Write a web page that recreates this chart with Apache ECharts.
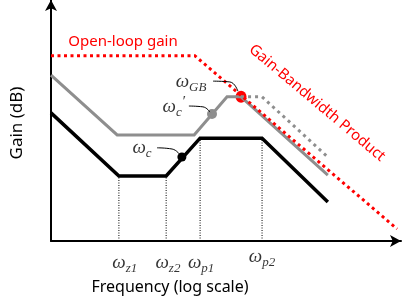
<!DOCTYPE html>
<html><head><meta charset="utf-8">
<script src="https://cdn.jsdelivr.net/npm/echarts@6/dist/echarts.min.js"></script>
<style>html,body{margin:0;padding:0;background:#fff}#c{width:403px;height:302px}</style>
</head><body><div id="c"></div>
<script>
// x: log-frequency units (0..10), y: gain units (0..60)
const openLoop = [[0, 46.1], [4.11, 46.1], [9.89, 3.0]];
const grayResp = [[0, 41.3], [1.89, 26.4], [4.09, 26.4], [5.03, 35.9], [5.43, 35.9], [7.91, 16.4]];
const grayDotted = [[5.43, 35.9], [6.03, 35.9], [7.91, 20.9]];
const blackResp = [[0, 31.9], [1.94, 16.2], [3.29, 16.2], [4.26, 25.6], [6.03, 25.6], [7.91, 9.7]];
const cornerX = [1.94, 3.29, 4.26, 6.03];
const cornerY = [16.2, 16.2, 25.6, 25.6];
const cornerLabels = ['{w|ω}{s|z1}', '{w|ω}{s|z2}', '{w|ω}{s|p1}', '{w|ω}{s|p2}'];
const cornerLabelPos = [[2.11, -5.5], [3.34, -5.5], [4.29, -5.5], [6.03, -4.0]];
const pointC = [3.74, 20.9];
const pointCp = [4.6, 31.6];
const pointGB = [5.43, 35.9];
const pointLabels = ['{w|ω}{s|c}', '{w|ω}{s|c}{p|′}', '{w|ω}{s|GB}'];
const pointLabelPos = [[2.6, 23.2], [3.51, 33.4], [4.0, 39.6]];
const leaderC = [[3.03, 23.2], [3.46, 22.9], [3.69, 21.4]];
const leaderCp = [[3.94, 33.6], [4.34, 33.4], [4.54, 32.1]];
const leaderGB = [[4.63, 39.8], [5.11, 39.6], [5.34, 37.3]];

const RED = '#ff0000', GRAY = '#8e8e8e';
const serif = 'Liberation Serif';
const rich = {
  w: {fontFamily: serif, fontStyle: 'italic', fontSize: 19, lineHeight: 24, verticalAlign: 'middle', color: '#000'},
  s: {fontFamily: serif, fontStyle: 'italic', fontSize: 13, lineHeight: 24, verticalAlign: 'bottom', color: '#000'},
  p: {fontFamily: serif, fontStyle: 'italic', fontSize: 15, lineHeight: 24, verticalAlign: 'top', color: '#000'}
};

function lineSeries(data, color, width, type, extra) {
  return Object.assign({
    type: 'line', data: data, symbol: 'none', silent: true, animation: false,
    lineStyle: {color: color, width: width, type: type, join: 'miter'}, clip: false
  }, extra || {});
}

const series = [];
cornerX.forEach((x, i) => {
  series.push(lineSeries([[x, 0], [x, cornerY[i]]], '#000', 1, [1, 1.5]));
});
series.push(lineSeries(grayResp, GRAY, 3, 'solid'));
series.push(lineSeries(grayDotted, GRAY, 3, [3, 4]));
series.push(lineSeries(blackResp, '#000', 3.5, 'solid'));
series.push(lineSeries(openLoop, RED, 3, [3, 3.5]));
[leaderC, leaderCp, leaderGB].forEach(d => {
  series.push(lineSeries(d, '#000', 1, 'solid', {smooth: true}));
});
series.push({type: 'scatter', silent: true, animation: false, data: [pointC], symbolSize: 9, itemStyle: {color: '#000', opacity: 1}});
series.push({type: 'scatter', silent: true, animation: false, data: [pointCp], symbolSize: 10, itemStyle: {color: GRAY, opacity: 1}});
series.push({type: 'scatter', silent: true, animation: false, data: [pointGB], symbol: 'circle', symbolSize: [11, 12], itemStyle: {color: RED, opacity: 1}});
series.push({
  type: 'scatter', silent: true, animation: false, clip: false, symbolSize: 0,
  data: pointLabelPos.map((p, i) => ({value: p, label: {formatter: pointLabels[i]}})),
  label: {show: true, position: 'inside', rich: rich}
});
series.push({
  type: 'scatter', silent: true, animation: false, clip: false, symbolSize: 0,
  data: cornerLabelPos.map((p, i) => ({value: p, label: {formatter: cornerLabels[i]}})),
  label: {show: true, position: 'inside', rich: rich}
});

const axisCommon = {
  type: 'value', axisTick: {show: false}, axisLabel: {show: false}, splitLine: {show: false},
  axisLine: {show: true, onZero: false, symbol: ['none', 'arrow'], symbolSize: [9, 11], lineStyle: {color: '#000', width: 2}}
};

const chart = echarts.init(document.getElementById('c'), null, {renderer: 'canvas'});
chart.setOption({
  backgroundColor: '#fff',
  animation: false,
  grid: {left: 51, right: 2, top: 0, bottom: 61, containLabel: false},
  xAxis: Object.assign({}, axisCommon, {min: 0, max: 10}),
  yAxis: Object.assign({}, axisCommon, {min: 0, max: 60}),
  series: series,
  graphic: [
    {type: 'text', x: 123, y: 42, style: {text: 'Open-loop gain', fill: RED, font: '15px "Noto Sans"', align: 'center', verticalAlign: 'middle'}},
    {type: 'text', x: 317, y: 103, rotation: -40 * Math.PI / 180, style: {text: 'Gain-Bandwidth Product', fill: RED, font: '15px "Noto Sans"', align: 'center', verticalAlign: 'middle'}},
    {type: 'text', x: 170, y: 287, style: {text: 'Frequency (log scale)', fill: '#000', font: '16px "Noto Sans"', align: 'center', verticalAlign: 'middle'}},
    {type: 'text', x: 17, y: 123, rotation: Math.PI / 2, style: {text: 'Gain (dB)', fill: '#000', font: '17px "Noto Sans"', align: 'center', verticalAlign: 'middle'}}
  ]
});
</script></body></html>
